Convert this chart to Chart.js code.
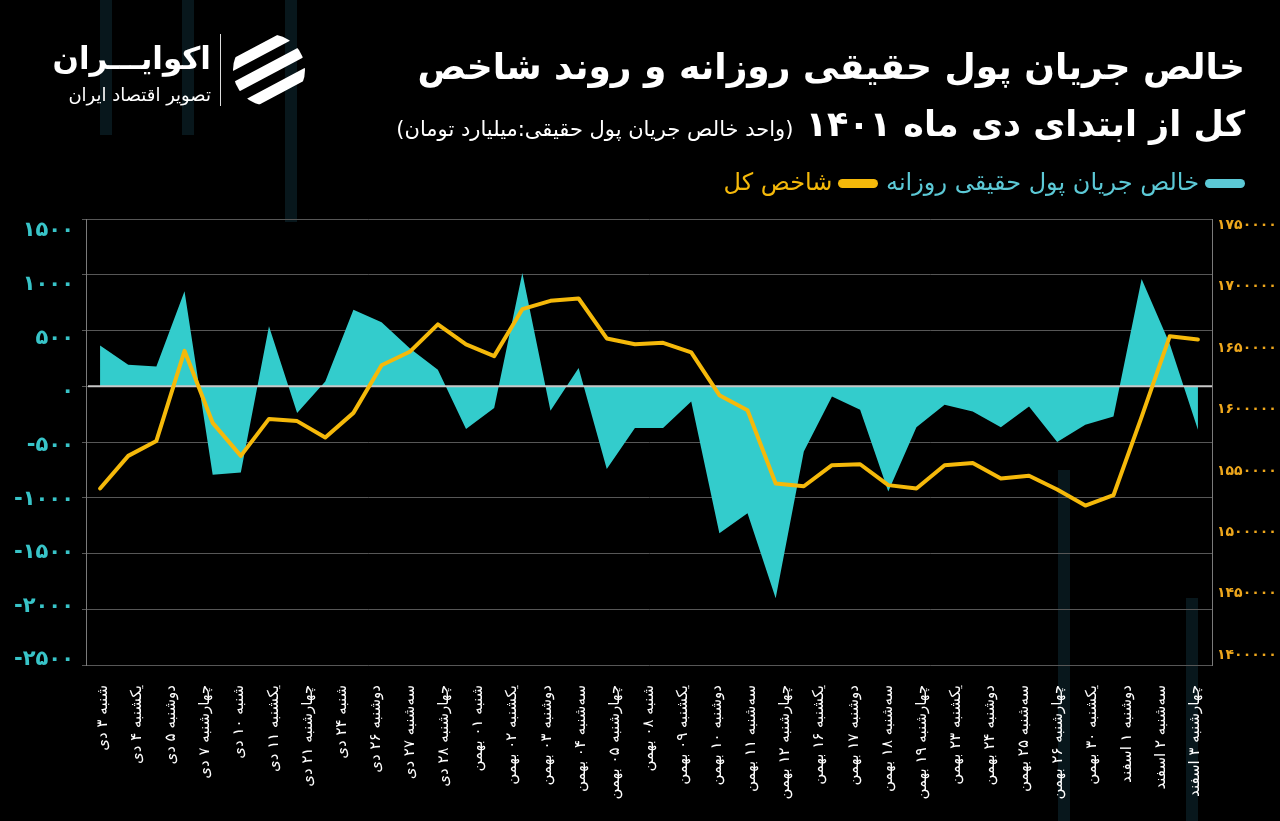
<!DOCTYPE html>
<html lang="fa">
<head>
<meta charset="utf-8">
<script src="https://cdn.jsdelivr.net/npm/chart.js@4.4.0/dist/chart.umd.min.js"></script>
<style>
html,body{margin:0;padding:0;background:#000;}
body{width:1280px;height:821px;position:relative;overflow:hidden;font-family:"DejaVu Sans",sans-serif;}
.bar{position:absolute;width:12px;background:#08171c;}
#c{position:absolute;left:0;top:0;}
.t{position:absolute;right:35px;direction:rtl;color:#fff;white-space:nowrap;}
#t1{top:46px;font-size:36px;font-weight:bold;}
#t2{top:104px;font-size:35px;font-weight:bold;}
#t2 small{font-size:21px;font-weight:normal;}
#legend{top:168px;font-size:24px;}
.sw{display:inline-block;width:40px;height:9px;border-radius:5px;vertical-align:middle;margin-left:6px;}
#logo{position:absolute;left:48px;top:32px;color:#fff;direction:rtl;}
#logo .n{position:absolute;right:-163px;top:8px;font-size:31px;font-weight:bold;white-space:nowrap;}
#logo .s{position:absolute;right:-163px;top:52px;font-size:18px;white-space:nowrap;}
#sep{position:absolute;left:220px;top:34px;width:1px;height:72px;background:#ddd;}
#icon{position:absolute;left:232px;top:33px;}
</style>
</head>
<body>
<div class="bar" style="left:100px;top:0;height:135px"></div>
<div class="bar" style="left:182px;top:0;height:135px"></div>
<div class="bar" style="left:285px;top:0;height:222px"></div>
<div class="bar" style="left:1058px;top:470px;height:351px"></div>
<div class="bar" style="left:1186px;top:598px;height:223px"></div>
<canvas id="c" width="1280" height="821"></canvas>

<div id="logo"><div class="n">اکوایـــران</div><div class="s">تصویر اقتصاد ایران</div></div>
<div id="sep"></div>
<svg id="icon" width="74" height="74" viewBox="0 0 74 74">
  <defs><clipPath id="cp"><circle cx="37" cy="37" r="36"/></clipPath></defs>
  <g clip-path="url(#cp)" fill="#fff">
    <rect x="-20" y="10" width="120" height="11" rx="5" transform="rotate(-28 37 37)"/>
    <rect x="-20" y="31" width="120" height="11" rx="5" transform="rotate(-28 37 37)"/>
    <rect x="-20" y="52" width="120" height="11" rx="5" transform="rotate(-28 37 37)"/>
  </g>
</svg>

<div class="t" id="t1">خالص جریان پول حقیقی روزانه و روند شاخص</div>
<div class="t" id="t2">کل از ابتدای دی ماه ۱۴۰۱ <small>(واحد خالص جریان پول حقیقی:میلیارد تومان)</small></div>
<div class="t" id="legend"><span class="sw" style="background:#5cc9d6"></span><span style="color:#5cc9d6">خالص جریان پول حقیقی روزانه</span> <span class="sw" style="background:#f5b90a"></span><span style="color:#f5b90a">شاخص کل</span></div>

<script>
// daily real money flow (billion toman) and total index, one value per trading day
const days = ['1','2','3','4','5','6','7','8','9','10','11','12','13','14','15','16','17','18','19','20',
  '21','22','23','24','25','26','27','28','29','30','31','32','33','34','35','36','37','38','39','40'];
const flow = [366,193,178,851,-794,-774,537,-241,43,687,573,340,148,-384,-196,1016,-220,163,-743,-375,
  -375,-136,-1318,-1138,-1901,-585,-91,-211,-944,-367,-166,-226,-367,-181,-501,-346,-271,962,380,-390];
const totalIndex = [1535700,1562200,1574400,1647700,1589100,1562200,1592300,1590500,1577200,1597200,
  1636000,1646900,1669200,1652900,1643400,1681600,1688400,1690300,1657800,1653100,
  1654200,1646400,1611600,1599400,1539700,1537500,1554600,1555400,1538400,1535700,
  1554600,1556500,1543800,1546000,1534900,1521800,1530200,1594000,1659600,1657000];
const dayLabels = ['شنبه ۳ دی','یکشنبه ۴ دی','دوشنبه ۵ دی','چهارشنبه ۷ دی','شنبه ۱۰ دی','یکشنبه ۱۱ دی',
  'چهارشنبه ۲۱ دی','شنبه ۲۴ دی','دوشنبه ۲۶ دی','سه‌شنبه ۲۷ دی','چهارشنبه ۲۸ دی','شنبه ۰۱ بهمن',
  'یکشنبه ۰۲ بهمن','دوشنبه ۰۳ بهمن','سه‌شنبه ۰۴ بهمن','چهارشنبه ۰۵ بهمن','شنبه ۰۸ بهمن','یکشنبه ۰۹ بهمن',
  'دوشنبه ۱۰ بهمن','سه‌شنبه ۱۱ بهمن','چهارشنبه ۱۲ بهمن','یکشنبه ۱۶ بهمن','دوشنبه ۱۷ بهمن','سه‌شنبه ۱۸ بهمن',
  'چهارشنبه ۱۹ بهمن','یکشنبه ۲۳ بهمن','دوشنبه ۲۴ بهمن','سه‌شنبه ۲۵ بهمن','چهارشنبه ۲۶ بهمن','یکشنبه ۳۰ بهمن',
  'دوشنبه ۱ اسفند','سه‌شنبه ۲ اسفند','چهارشنبه ۳ اسفند'];
const flowTicks = [1500,1000,500,0,-500,-1000,-1500,-2000,-2500];
const indexTicks = [1750000,1700000,1650000,1600000,1550000,1500000,1450000,1400000];

const faDigits = '۰۱۲۳۴۵۶۷۸۹';
const toFa = v => String(v).replace(/\d/g, d => faDigits[d]);
const font = '"DejaVu Sans", sans-serif';

// zero line sits on top of the filled area but under the index line
const zeroLine = {
  id: 'zeroLine',
  afterDatasetDraw(chart, args) {
    if (args.index !== 1) return;
    const y = chart.scales.y.getPixelForValue(0);
    const {left, right} = chart.chartArea;
    const ctx = chart.ctx;
    ctx.save();
    ctx.strokeStyle = '#c8c8c8';
    ctx.lineWidth = 2;
    ctx.beginPath();
    ctx.moveTo(left + 2, y);
    ctx.lineTo(right, y);
    ctx.stroke();
    ctx.restore();
  }
};

new Chart(document.getElementById('c'), {
  type: 'line',
  data: {
    labels: days,
    datasets: [
      {
        label: 'شاخص کل',
        data: totalIndex,
        yAxisID: 'y1',
        borderColor: '#f5b90a',
        borderWidth: 4,
        borderJoinStyle: 'round',
        borderCapStyle: 'round',
        pointRadius: 0,
        tension: 0,
        fill: false,
        order: 1
      },
      {
        label: 'خالص جریان پول حقیقی روزانه',
        data: flow,
        yAxisID: 'y',
        borderWidth: 0,
        backgroundColor: '#33cccc',
        pointRadius: 0,
        tension: 0,
        fill: 'origin',
        order: 2
      }
    ]
  },
  options: {
    responsive: false,
    animation: false,
    layout: {padding: {top: 219}},
    plugins: {legend: {display: false}, tooltip: {enabled: false}},
    scales: {
      x: {display: false, offset: true},
      x2: {
        type: 'category',
        labels: dayLabels,
        position: 'bottom',
        offset: true,
        grid: {display: false},
        border: {display: false},
        ticks: {color: '#fff', font: {family: font, size: 15}, minRotation: 90, maxRotation: 90, autoSkip: false, padding: 12},
        afterFit(s) { s.height = 156; }
      },
      y: {
        position: 'left',
        min: -2500,
        max: 1500,
        ticks: {display: false, stepSize: 500},
        grid: {color: '#575757', tickLength: 4},
        border: {color: '#7a7a7a'},
        afterFit(s) { s.width = 0; }
      },
      yl: {
        position: 'left',
        min: -2547,
        max: 1612,
        afterBuildTicks(s) { s.ticks = flowTicks.map(v => ({value: v})); },
        ticks: {color: '#38c4c8', font: {family: font, size: 21, weight: 'bold'}, callback: v => toFa(v), padding: 12},
        grid: {display: false, drawTicks: false},
        border: {display: false},
        afterFit(s) { s.width = 86; }
      },
      y1: {
        position: 'right',
        min: 1392000,
        max: 1755000,
        afterBuildTicks(s) { s.ticks = indexTicks.map(v => ({value: v})); },
        ticks: {color: '#eea71c', font: {family: font, size: 14, weight: 'bold'}, callback: v => toFa(v), padding: 5},
        grid: {display: false, drawTicks: false},
        border: {color: '#7a7a7a'},
        afterFit(s) { s.width = 68; }
      }
    }
  },
  plugins: [zeroLine]
});
</script>
</body>
</html>
